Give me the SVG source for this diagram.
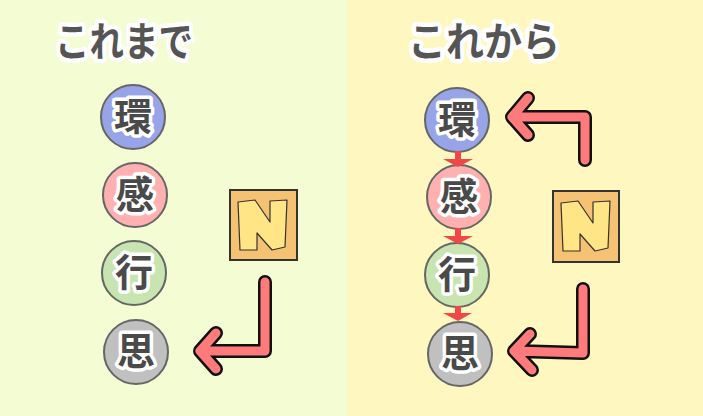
<svg xmlns="http://www.w3.org/2000/svg" width="703" height="416" viewBox="0 0 703 416">
<style>
.title{font-family:"Noto Sans CJK JP","Noto Sans",sans-serif;font-weight:bold;font-size:40px;fill:#555;stroke:#fff;stroke-width:9;stroke-linejoin:round;paint-order:stroke}
.ch{font-family:"Noto Sans CJK JP","Noto Sans",sans-serif;font-weight:bold;font-size:38px;fill:#4a4a4a;stroke:#fff;stroke-width:7;stroke-linejoin:round;paint-order:stroke;text-anchor:middle}
.c{stroke:#666;stroke-width:2}
.box{fill:#f5c173;stroke:#333;stroke-width:2}
.nl{fill:#ffe585;stroke:#333;stroke-width:1.2;stroke-linejoin:round}
.ao{fill:none;stroke:#111;stroke-width:14;stroke-linecap:round;stroke-linejoin:round}
.ai{fill:none;stroke:#ff7b7b;stroke-width:9;stroke-linecap:round;stroke-linejoin:round}
.sa{fill:#f04848}
</style>
<rect x="0" y="0" width="347" height="416" fill="#f4fcd4"/>
<rect x="347" y="0" width="356" height="416" fill="#fff7c0"/>
<g id="title-left"><text class="title" x="55" y="56" textLength="138" lengthAdjust="spacingAndGlyphs">これまで</text></g>
<g id="title-right"><text class="title" x="408" y="56" textLength="152" lengthAdjust="spacingAndGlyphs">これから</text></g>

<g id="L-kan"><circle class="c" cx="133" cy="117" r="32" fill="#98a4e8"/><text class="ch" x="133" y="130">環</text></g>
<g id="L-kan2"><circle class="c" cx="135" cy="195" r="32" fill="#ffb0b0"/><text class="ch" x="135" y="208">感</text></g>
<g id="L-kou"><circle class="c" cx="134" cy="273" r="32" fill="#c8e4b0"/><text class="ch" x="134" y="286">行</text></g>
<g id="L-shi"><circle class="c" cx="136" cy="352" r="32" fill="#c0c0c0"/><text class="ch" x="136" y="365">思</text></g>
<g id="L-N"><rect class="box" x="230" y="190" width="67" height="70"/><polygon class="nl" points="238,202 255,200 270,222 270,201 287,200 285,247 272,250 257,233 257,250 240,250"/></g>

<g id="R-kan"><circle class="c" cx="457" cy="120" r="32" fill="#98a4e8"/><text class="ch" x="457" y="133">環</text></g>
<g id="R-kan2"><circle class="c" cx="459" cy="197" r="32" fill="#ffb0b0"/><text class="ch" x="459" y="210">感</text></g>
<g id="R-kou"><circle class="c" cx="457" cy="275" r="32" fill="#c8e4b0"/><text class="ch" x="457" y="288">行</text></g>
<g id="R-shi"><circle class="c" cx="460" cy="354" r="32" fill="#c0c0c0"/><text class="ch" x="460" y="367">思</text></g>
<g id="R-N"><rect class="box" x="553" y="191" width="66" height="71"/><polygon class="nl" points="561,203 578,201 593,223 593,202 610,201 608,248 595,251 580,234 580,251 563,251"/></g>

<g id="connectors">
<path class="ao" d="M265 282 L265 351 L200 351 M216 333 L200 351 L216 369"/>
<path class="ai" d="M265 282 L265 351 L200 351 M216 333 L200 351 L216 369"/>
<path class="ao" d="M585 160 L585 117 L514 117 M528 98 L512 117 L528 135"/>
<path class="ai" d="M585 160 L585 117 L514 117 M528 98 L512 117 L528 135"/>
<path class="ao" d="M583 289 L583 353 L516 351 M530 334 L514 351 L532 370"/>
<path class="ai" d="M583 289 L583 353 L516 351 M530 334 L514 351 L532 370"/>
<path class="sa" d="M455 151 H461 V159 H473 L458 167 L443 159 H455 Z"/>
<path class="sa" d="M455 228 H461 V236 H473 L458 244 L443 236 H455 Z"/>
<path class="sa" d="M455 306 H461 V313 H472 L458 321 L443 313 H455 Z"/>
</g>
</svg>
